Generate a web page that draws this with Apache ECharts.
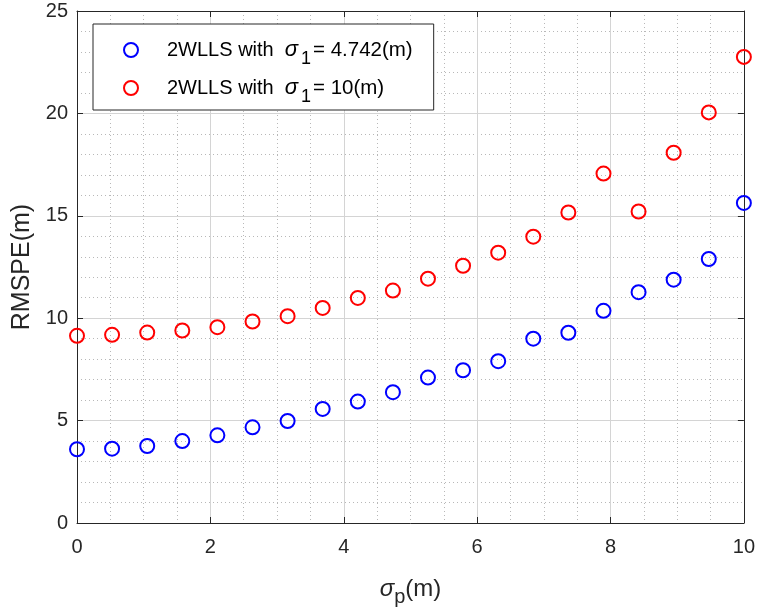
<!DOCTYPE html>
<html>
<head>
<meta charset="utf-8">
<script src="https://cdn.jsdelivr.net/npm/echarts@6/dist/echarts.min.js"></script>
<style>
  html, body { margin: 0; padding: 0; background: #fff; }
  #chart { width: 758px; height: 612px; }
</style>
</head>
<body>
<div id="chart"></div>
<script>
// sigma_p values (m)
var sigmaP = [0, 0.526, 1.053, 1.579, 2.105, 2.632, 3.158, 3.684, 4.211, 4.737,
              5.263, 5.789, 6.316, 6.842, 7.368, 7.895, 8.421, 8.947, 9.474, 10];
// RMSPE, sigma_1 = 4.742
var rmspeBlue = [3.6, 3.63, 3.76, 4.0, 4.28, 4.67, 4.98, 5.57, 5.93, 6.39,
                 7.1, 7.46, 7.9, 9.0, 9.29, 10.36, 11.27, 11.88, 12.89, 15.63];
// RMSPE, sigma_1 = 10
var rmspeRed = [9.14, 9.19, 9.3, 9.4, 9.56, 9.84, 10.1, 10.5, 10.99, 11.35,
                11.93, 12.56, 13.2, 13.98, 15.16, 17.06, 15.21, 18.08, 20.05, 22.76];
var names = ['blue', 'red'];

var myChart = echarts.init(document.getElementById('chart'));

var font = 'Liberation Sans, Arial, sans-serif';
var axisCol = '#262626';

function pairs(ys) {
    return sigmaP.map(function (x, i) { return [x, ys[i]]; });
}

var rich = {
    a: { fontSize: 20, fontFamily: font, color: '#000', lineHeight: 36, verticalAlign: 'middle' },
    s: { fontSize: 22, fontFamily: font, fontStyle: 'italic', color: '#000', lineHeight: 36, verticalAlign: 'middle', padding: [0, 0, 0, 11] },
    sub: { fontSize: 18, fontFamily: font, color: '#000', lineHeight: 6, verticalAlign: 'bottom', padding: [0, 2, 0, 3] },
    b: { fontSize: 20.5, fontFamily: font, color: '#000', lineHeight: 36, verticalAlign: 'middle' }
};

myChart.setOption({
    animation: false,
    backgroundColor: '#fff',
    grid: { left: 77, right: 14, top: 11, bottom: 87 },
    legend: {
        orient: 'vertical',
        left: 93, top: 24,
        padding: [15, 21, 4, 30],
        itemGap: 9,
        itemWidth: 14, itemHeight: 14,
        backgroundColor: '#fff',
        borderColor: axisCol,
        borderWidth: 1,
        data: names,
        formatter: function (n) {
            if (n === 'blue') return '{a|2WLLS with}{s|σ}{sub|1}{b|= 4.742(m)}';
            return '{a|2WLLS with}{s|σ}{sub|1}{b|= 10(m)}';
        },
        textStyle: { rich: rich, padding: [0, 0, 0, 24] }
    },
    xAxis: [{
        type: 'value', min: 0, max: 10, interval: 2,
        name: '{s|σ}{sub|p}{t|(m)}',
        nameLocation: 'middle', nameGap: 48,
        nameTextStyle: {
            rich: {
                t: { fontSize: 24, fontFamily: font, color: axisCol },
                s: { fontSize: 24, fontFamily: font, fontStyle: 'italic', color: axisCol },
                sub: { fontSize: 20, fontFamily: font, color: axisCol, padding: [16, 0, 0, 0] }
            }
        },
        axisLine: { show: true, onZero: false, lineStyle: { color: axisCol } },
        axisTick: { show: true, inside: true, length: 6, lineStyle: { color: axisCol } },
        axisLabel: { fontSize: 20, fontFamily: font, color: axisCol, margin: 14 },
        splitLine: { show: true, lineStyle: { color: '#d4d4d4', width: 1 } },
        minorTick: { show: false, splitNumber: 4 },
        minorSplitLine: { show: true, lineStyle: { color: '#b8b8b8', type: [1, 3] } }
    }, {
        type: 'value', min: 0, max: 10, interval: 2, position: 'top',
        axisLine: { show: true, onZero: false, lineStyle: { color: axisCol } },
        axisTick: { show: true, inside: true, length: 6, lineStyle: { color: axisCol } },
        axisLabel: { show: false },
        splitLine: { show: false }
    }],
    yAxis: [{
        type: 'value', min: 0, max: 25, interval: 5,
        name: 'RMSPE(m)',
        nameLocation: 'middle', nameGap: 40,
        nameTextStyle: { fontSize: 25, fontFamily: font, color: axisCol },
        axisLine: { show: true, onZero: false, lineStyle: { color: axisCol } },
        axisTick: { show: true, inside: true, length: 6, lineStyle: { color: axisCol } },
        axisLabel: { fontSize: 20, fontFamily: font, color: axisCol, margin: 9 },
        splitLine: { show: true, lineStyle: { color: '#d4d4d4', width: 1 } },
        minorTick: { show: false, splitNumber: 5 },
        minorSplitLine: { show: true, lineStyle: { color: '#b8b8b8', type: [1, 3] } }
    }, {
        type: 'value', min: 0, max: 25, interval: 5, position: 'right',
        axisLine: { show: true, onZero: false, lineStyle: { color: axisCol } },
        axisTick: { show: true, inside: true, length: 6, lineStyle: { color: axisCol } },
        axisLabel: { show: false },
        splitLine: { show: false }
    }],
    series: [{
        name: 'blue',
        type: 'scatter',
        symbol: 'circle',
        symbolSize: 14,
        itemStyle: { color: 'rgba(0,0,0,0)', borderColor: '#0000ff', borderWidth: 2, opacity: 1 },
        data: pairs(rmspeBlue)
    }, {
        name: 'red',
        type: 'scatter',
        symbol: 'circle',
        symbolSize: 14,
        itemStyle: { color: 'rgba(0,0,0,0)', borderColor: '#ff0000', borderWidth: 2, opacity: 1 },
        data: pairs(rmspeRed)
    }]
});
</script>
</body>
</html>
